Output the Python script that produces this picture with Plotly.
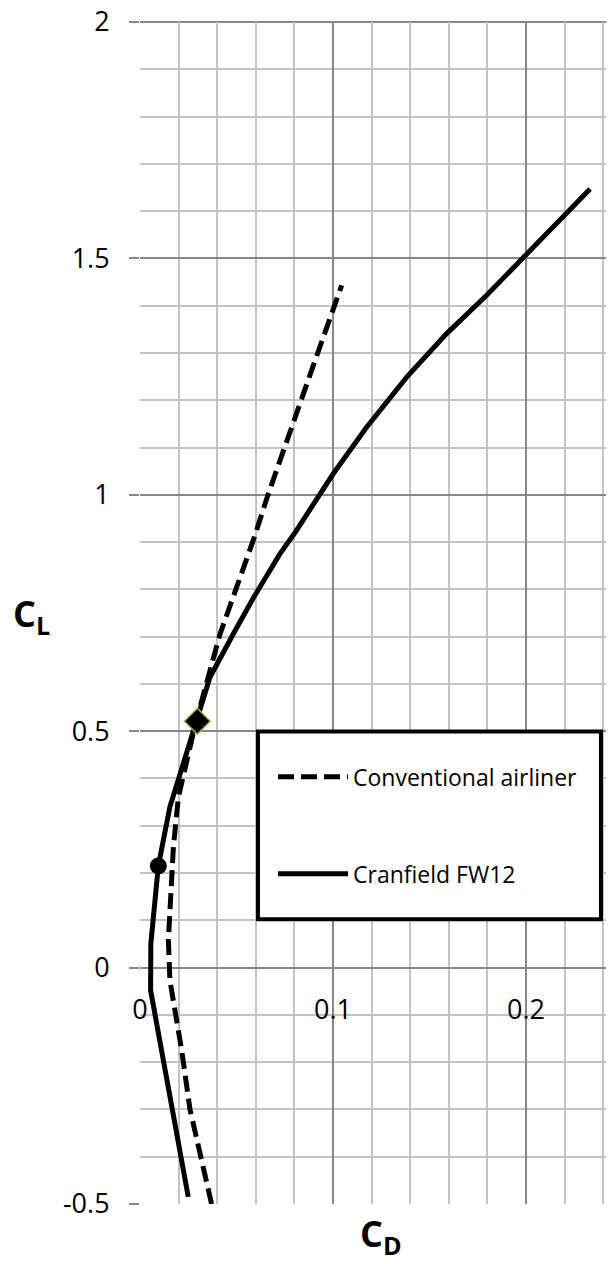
import plotly.graph_objects as go

# Conventional airliner drag polar (dashed)
conv_cd = [0.0371, 0.0259, 0.0216, 0.0190, 0.0155, 0.0147, 0.0155, 0.0173, 0.0199, 0.0242, 0.0290,
           0.0415, 0.0501, 0.0587, 0.0665, 0.0751, 0.0895, 0.1045]
conv_cl = [-0.50, -0.30, -0.175, -0.111, -0.027, 0.058, 0.115, 0.255, 0.361, 0.438, 0.52,
           0.706, 0.805, 0.904, 1.002, 1.104, 1.27, 1.443]

# Cranfield FW12 drag polar (solid)
fw_cd = [0.0250, 0.0055, 0.0056, 0.0072, 0.0095, 0.0155, 0.0225, 0.0297, 0.0363, 0.0484, 0.0590,
         0.0725, 0.0800, 0.1002, 0.1174, 0.1382, 0.1589, 0.1796, 0.2003, 0.2332]
fw_cl = [-0.485, -0.048, 0.050, 0.130, 0.215, 0.340, 0.431, 0.521, 0.6145, 0.706, 0.784,
         0.875, 0.918, 1.045, 1.143, 1.249, 1.341, 1.422, 1.510, 1.647]

# Highlighted points
dot_cd = [0.0095]
dot_cl = [0.215]
diamond_cd = [0.0297]
diamond_cl = [0.521]

series_names = ["Conventional airliner", "Cranfield FW12"]
y_tickvals = [-0.5, 0, 0.5, 1, 1.5, 2]
y_ticktext = ["-0.5", "0", "0.5", "1", "1.5", "2"]
x_tickvals = [0, 0.1, 0.2]
x_ticktext = ["0", "0.1", "0.2"]

MAJOR = "#878787"
MINOR = "#c3c3c3"
FONT = "Open Sans"

fig = go.Figure()
fig.add_trace(go.Scatter(x=conv_cd, y=conv_cl, mode="lines", name=series_names[0],
                         line=dict(color="black", width=5, dash="16px,7px"),
                         legendgroup="a"))
fig.add_trace(go.Scatter(x=fw_cd, y=fw_cl, mode="lines", name=series_names[1],
                         line=dict(color="black", width=5),
                         legendgroup="b"))
fig.add_trace(go.Scatter(x=dot_cd, y=dot_cl, mode="markers", showlegend=False,
                         marker=dict(symbol="circle", size=17, color="black")))
fig.add_trace(go.Scatter(x=diamond_cd, y=diamond_cl, mode="markers", showlegend=False,
                         marker=dict(symbol="diamond", size=20, color="black",
                                     line=dict(color="#9BBB59", width=1.5))))

# page body has an 8px margin, so the figure is laid out 8px smaller and shifted
fig.update_layout(
    width=606, height=1256,
    margin=dict(l=132, r=0, t=14, b=60, autoexpand=False),
    paper_bgcolor="white", plot_bgcolor="white",
    font=dict(family=FONT, color="black"),
    showlegend=True,
    legend=dict(x=0.2806, y=0.3796, xanchor="left", yanchor="top",
                bgcolor="rgba(0,0,0,0)", borderwidth=0,
                font=dict(family=FONT, size=23, color="black"),
                itemwidth=70, tracegroupgap=64),
    xaxis=dict(range=[0, 0.2456], anchor="free", position=0.2,
               tickvals=x_tickvals, ticktext=x_ticktext,
               ticks="outside", ticklen=18, tickcolor="rgba(0,0,0,0)",
               tickfont=dict(family=FONT, size=27, color="black"),
               ticklabeloverflow="allow", automargin=False,
               showgrid=True, gridcolor=MAJOR, gridwidth=2,
               minor=dict(dtick=0.02, showgrid=True, gridcolor=MINOR, gridwidth=2),
               zeroline=False, showline=False),
    yaxis=dict(range=[-0.5, 2],
               tickvals=y_tickvals, ticktext=y_ticktext,
               ticks="outside", ticklen=10, tickwidth=2, tickcolor=MAJOR,
               ticklabelstandoff=14, ticklabeloverflow="allow", automargin=False,
               tickfont=dict(family=FONT, size=27, color="black"),
               showgrid=True, gridcolor=MAJOR, gridwidth=2,
               minor=dict(dtick=0.1, showgrid=True, gridcolor=MINOR, gridwidth=2),
               zeroline=False, showline=False),
    shapes=[
        dict(type="line", xref="paper", yref="paper", x0=0, x1=1, y0=1, y1=1,
             line=dict(color=MAJOR, width=2), layer="below"),
        dict(type="rect", xref="paper", yref="paper",
             x0=0.2489, x1=0.9725, y0=0.2410, y1=0.3998,
             line=dict(color="black", width=4), fillcolor="white", layer="above"),
    ],
    annotations=[
        dict(text="<b>C<sub>L</sub></b>", xref="paper", yref="paper", x=-0.2289, y=0.4982,
             xanchor="center", yanchor="middle",
             showarrow=False, font=dict(family=FONT, size=36, color="black")),
        dict(text="<b>C<sub>D</sub></b>", xref="paper", yref="paper", x=0.5084, y=-0.0263,
             xanchor="center", yanchor="middle",
             showarrow=False, font=dict(family=FONT, size=36, color="black")),
    ],
)

fig.write_html("out.html")
